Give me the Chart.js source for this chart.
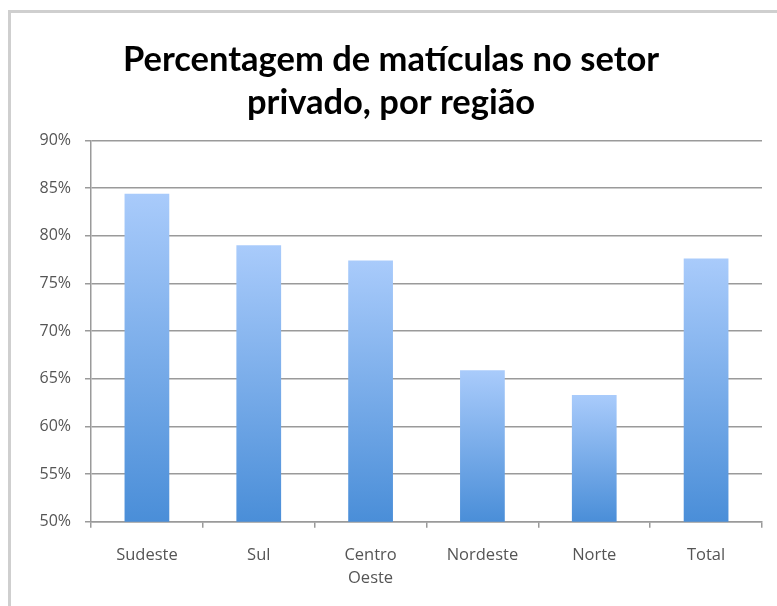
<!DOCTYPE html>
<html>
<head>
<meta charset="utf-8">
<script src="https://cdn.jsdelivr.net/npm/chart.js@4.4.1/dist/chart.umd.min.js"></script>
<style>
  html, body { margin: 0; padding: 0; background: #fff; }
  #moldura { position: absolute; left: 0; top: 0; width: 777px; height: 606px; }
</style>
</head>
<body>
<div id="moldura"><canvas id="grafico" width="777" height="606"></canvas></div>
<script>
// --- DADOS DO GRÁFICO ---
const regioes = ['Sudeste', 'Sul', ['Centro', 'Oeste'], 'Nordeste', 'Norte', 'Total'];
const percentuais = [84.4, 79.0, 77.4, 65.9, 63.3, 77.6];
const tituloLinhas = ['Percentagem de matículas no setor', 'privado, por região'];
const yMin = 50, yMax = 90, yPasso = 5;

// moldura cinza em volta do gráfico
const pluginMoldura = {
    id: 'moldura',
    beforeDraw(chart) {
        const c = chart.ctx;
        c.save();
        c.fillStyle = '#fff';
        c.fillRect(0, 0, chart.width, chart.height);
        c.strokeStyle = '#cfcfcf';
        c.lineWidth = 3;
        c.strokeRect(9.5, 11.5, chart.width + 20, chart.height + 20);
        c.restore();
    }
};

// gradiente de cada barra: claro no topo, escuro na base
function corBarra(context) {
    const chart = context.chart;
    const area = chart.chartArea;
    if (!area || !chart.scales.y) return '#6fa3e6';
    const topo = chart.scales.y.getPixelForValue(context.raw);
    const g = chart.ctx.createLinearGradient(0, topo, 0, area.bottom);
    g.addColorStop(0, '#a9cbfb');
    g.addColorStop(1, '#4a8ed8');
    return g;
}

const ctx = document.getElementById('grafico').getContext('2d');
new Chart(ctx, {
    type: 'bar',
    data: {
        labels: regioes,
        datasets: [{
            data: percentuais,
            backgroundColor: corBarra,
            borderWidth: 0,
            categoryPercentage: 1,
            barPercentage: 0.4
        }]
    },
    options: {
        responsive: false,
        animation: false,
        devicePixelRatio: 1,
        layout: { padding: { left: 20, right: 15, top: 38, bottom: 0 } },
        plugins: {
            legend: { display: false },
            tooltip: { enabled: false },
            title: {
                display: true,
                text: tituloLinhas,
                color: '#000',
                font: { family: 'Lato', size: 34.5, weight: 'bold', lineHeight: 1.25 },
                padding: { top: 0, bottom: 16 }
            }
        },
        scales: {
            x: {
                grid: { drawOnChartArea: false, drawTicks: true, tickLength: 6, color: '#9a9a9a', lineWidth: 1.5 },
                border: { color: '#9a9a9a', width: 1.5 },
                ticks: {
                    color: '#555',
                    font: { family: 'Open Sans', size: 16.5, lineHeight: 1.4 },
                    padding: 16,
                    maxRotation: 0
                }
            },
            y: {
                min: yMin,
                max: yMax,
                afterFit(scale) { scale.width = 71; },
                ticks: {
                    stepSize: yPasso,
                    color: '#555',
                    font: { family: 'Open Sans', size: 16 },
                    padding: 14,
                    callback: v => v + '%'
                },
                grid: { color: '#9a9a9a', lineWidth: 1.5, tickLength: 6 },
                border: { color: '#9a9a9a', width: 1.5 }
            }
        }
    },
    plugins: [pluginMoldura]
});
</script>
</body>
</html>
